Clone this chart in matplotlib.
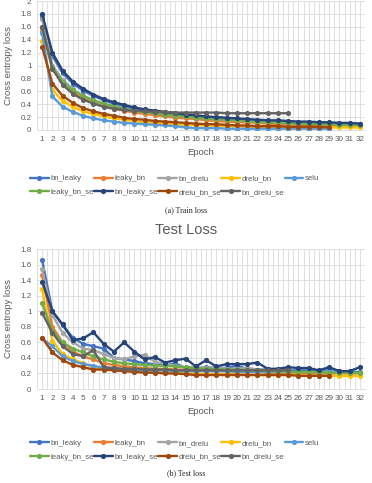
import numpy as np
import matplotlib
matplotlib.use("Agg")
import matplotlib.pyplot as plt

series_names = ["bn_leaky", "leaky_bn", "bn_drelu", "drelu_bn", "selu",
                "leaky_bn_se", "bn_leaky_se", "drelu_bn_se", "bn_drelu_se"]
series_colors = ["#4472C4", "#ED7D31", "#A5A5A5", "#FFC000", "#5B9BD5",
                 "#70AD47", "#264478", "#9E480E", "#636363"]

# ---- Train loss ----
train_bn_leaky = [1.75, 1.15, 0.88, 0.72, 0.61, 0.53, 0.46, 0.41, 0.37, 0.33, 0.30, 0.28, 0.26, 0.24, 0.22, 0.21,
                  0.19, 0.18, 0.17, 0.16, 0.15, 0.14, 0.14, 0.13, 0.12, 0.12, 0.11, 0.11, 0.10, 0.10, 0.10, 0.09]
train_leaky_bn = [1.55, 0.95, 0.72, 0.58, 0.49, 0.42, 0.37, 0.33, 0.30, 0.27, 0.25, 0.23, 0.21, 0.19, 0.18, 0.17,
                  0.15, 0.14, 0.13, 0.12, 0.12, 0.11, 0.10, 0.09, 0.09, 0.08, 0.08, 0.07, 0.07, 0.06, 0.06, 0.06]
train_bn_drelu = [1.72, 1.00, 0.78, 0.63, 0.53, 0.46, 0.40, 0.36, 0.33, 0.30, 0.28, 0.26, 0.24, 0.22, 0.21, 0.19,
                  0.18, 0.17, 0.16, 0.15, 0.14, 0.13, 0.12, 0.12, 0.11, 0.10, 0.10, 0.09, 0.09]
train_drelu_bn = [1.38, 0.62, 0.45, 0.36, 0.29, 0.25, 0.21, 0.18, 0.16, 0.14, 0.12, 0.11, 0.10, 0.09, 0.08, 0.08,
                  0.07, 0.07, 0.06, 0.06, 0.05, 0.05, 0.05, 0.05, 0.04, 0.04, 0.04, 0.04, 0.04, 0.04, 0.04, 0.04]
train_selu = [1.50, 0.52, 0.36, 0.28, 0.22, 0.18, 0.15, 0.13, 0.11, 0.10, 0.09, 0.08, 0.07, 0.06, 0.04, 0.03,
              0.03, 0.03, 0.02, 0.02, 0.02, 0.02, 0.02, 0.02, 0.02, 0.02, 0.02, 0.02, 0.02]
train_leaky_bn_se = [1.60, 0.98, 0.75, 0.62, 0.53, 0.46, 0.41, 0.37, 0.33, 0.30, 0.28, 0.26, 0.24, 0.22, 0.21, 0.19,
                     0.18, 0.17, 0.16, 0.15, 0.14, 0.13, 0.12, 0.12, 0.11, 0.10, 0.10, 0.09, 0.09, 0.08, 0.08, 0.08]
train_bn_leaky_se = [1.80, 1.20, 0.92, 0.75, 0.64, 0.55, 0.48, 0.43, 0.39, 0.35, 0.32, 0.30, 0.28, 0.26, 0.24, 0.23,
                     0.21, 0.20, 0.19, 0.18, 0.17, 0.16, 0.15, 0.15, 0.14, 0.13, 0.13, 0.12, 0.12, 0.11, 0.11, 0.10]
train_drelu_bn_se = [1.29, 0.72, 0.53, 0.42, 0.34, 0.29, 0.25, 0.22, 0.19, 0.17, 0.16, 0.14, 0.13, 0.12, 0.11, 0.10,
                     0.09, 0.09, 0.08, 0.07, 0.07, 0.06, 0.06, 0.06, 0.05, 0.05, 0.05, 0.05, 0.04]
train_bn_drelu_se = [1.60, 0.95, 0.70, 0.56, 0.47, 0.41, 0.36, 0.33, 0.31, 0.30, 0.29, 0.28, 0.28, 0.27, 0.27, 0.27,
                     0.27, 0.27, 0.26, 0.26, 0.26, 0.26, 0.26, 0.26, 0.26]

# ---- Test loss ----
test_bn_leaky = [1.66, 1.00, 0.82, 0.66, 0.58, 0.55, 0.52, 0.40, 0.38, 0.36, 0.33, 0.32, 0.30, 0.33, 0.27, 0.26,
                 0.28, 0.27, 0.27, 0.30, 0.26, 0.25, 0.25, 0.25, 0.24, 0.24, 0.24, 0.23, 0.25, 0.23, 0.22, 0.22]
test_leaky_bn = [1.46, 0.80, 0.60, 0.48, 0.42, 0.38, 0.33, 0.31, 0.29, 0.28, 0.27, 0.26, 0.26, 0.25, 0.25, 0.24,
                 0.23, 0.23, 0.23, 0.22, 0.22, 0.22, 0.21, 0.21, 0.21, 0.21, 0.20, 0.20, 0.20, 0.20, 0.20, 0.20]
test_bn_drelu = [1.54, 0.95, 0.72, 0.60, 0.52, 0.50, 0.45, 0.40, 0.38, 0.42, 0.44, 0.35, 0.32, 0.30, 0.28, 0.28,
                 0.27, 0.28, 0.26, 0.26, 0.27, 0.25, 0.25, 0.24, 0.24]
test_drelu_bn = [1.28, 0.62, 0.45, 0.38, 0.33, 0.28, 0.26, 0.25, 0.24, 0.23, 0.22, 0.22, 0.21, 0.21, 0.20, 0.20,
                 0.19, 0.19, 0.19, 0.19, 0.18, 0.18, 0.18, 0.18, 0.18, 0.18, 0.17, 0.17, 0.17, 0.17, 0.17, 0.17]
test_selu = [0.65, 0.55, 0.42, 0.36, 0.32, 0.30, 0.27, 0.26, 0.25, 0.25, 0.24, 0.24, 0.24, 0.23, 0.23, 0.23,
             0.23, 0.23, 0.23, 0.22, 0.22, 0.22, 0.22, 0.22, 0.22, 0.22, 0.22, 0.22, 0.25, 0.22]
test_leaky_bn_se = [1.10, 0.75, 0.60, 0.52, 0.47, 0.42, 0.38, 0.35, 0.33, 0.32, 0.31, 0.30, 0.30, 0.29, 0.28, 0.27,
                    0.26, 0.26, 0.25, 0.25, 0.24, 0.24, 0.23, 0.23, 0.22, 0.22, 0.22, 0.22, 0.21, 0.21, 0.21, 0.21]
test_bn_leaky_se = [1.38, 1.00, 0.83, 0.63, 0.65, 0.73, 0.58, 0.48, 0.60, 0.48, 0.38, 0.41, 0.34, 0.37, 0.39, 0.29,
                    0.37, 0.29, 0.32, 0.32, 0.32, 0.34, 0.26, 0.26, 0.28, 0.27, 0.27, 0.24, 0.28, 0.23, 0.23, 0.28]
test_drelu_bn_se = [0.66, 0.47, 0.37, 0.31, 0.28, 0.25, 0.25, 0.24, 0.23, 0.22, 0.21, 0.21, 0.20, 0.20, 0.19, 0.18,
                    0.18, 0.18, 0.18, 0.18, 0.18, 0.18, 0.18, 0.18, 0.18, 0.17, 0.17, 0.17, 0.17]
test_bn_drelu_se = [0.98, 0.72, 0.55, 0.45, 0.42, 0.50, 0.28, 0.27, 0.26, 0.26, 0.25, 0.25, 0.25, 0.24, 0.24, 0.24,
                    0.24, 0.24, 0.24, 0.24, 0.24, 0.24, 0.24, 0.24, 0.24]

train_series = [train_bn_leaky, train_leaky_bn, train_bn_drelu, train_drelu_bn, train_selu,
                train_leaky_bn_se, train_bn_leaky_se, train_drelu_bn_se, train_bn_drelu_se]
test_series = [test_bn_leaky, test_leaky_bn, test_bn_drelu, test_drelu_bn, test_selu,
               test_leaky_bn_se, test_bn_leaky_se, test_drelu_bn_se, test_bn_drelu_se]

epochs = list(range(1, 33))

plt.rcParams["font.family"] = ["Liberation Sans", "DejaVu Sans"]

W, H = 372, 483
fig = plt.figure(figsize=(W / 100, H / 100), dpi=100)
fig.patch.set_facecolor("white")

TXT = "#595959"
GRID = "#D9D9D9"


def px_axes(left, top, right, bottom):
    return fig.add_axes([left / W, 1 - bottom / H, (right - left) / W, (bottom - top) / H])


def style(ax, ymax, yticks, series):
    lines = []
    for name, col, vals in zip(series_names, series_colors, series):
        x = epochs[:len(vals)]
        ln, = ax.plot(x, vals, color=col, lw=1.7, marker="o", ms=2.7, label=name,
                      solid_capstyle="round", zorder=3)
        lines.append(ln)
    ax.set_xlim(0.5, 32.5)
    ax.set_ylim(0, ymax)
    ax.set_xticks(epochs)
    ax.set_xticklabels([str(e) for e in epochs])
    ax.set_xticks(np.arange(0.5, 33, 1.0), minor=True)
    ax.set_yticks(yticks)
    ax.set_yticklabels([("%g" % t) for t in yticks])
    ax.grid(True, which="both", axis="x", color=GRID, lw=0.6, zorder=0)
    ax.grid(True, which="major", axis="y", color=GRID, lw=0.6, zorder=0)
    ax.tick_params(which="both", length=0, labelsize=5.8, colors=TXT, pad=4)
    for s in ["top", "right", "left"]:
        ax.spines[s].set_visible(False)
    ax.spines["bottom"].set_color(GRID)
    ax.spines["bottom"].set_linewidth(0.6)
    ax.set_axisbelow(True)
    ax.set_xlabel("Epoch", fontsize=6.8, color=TXT, labelpad=4)
    ax.set_ylabel("Cross entropy loss", fontsize=6.8, color=TXT, labelpad=5)
    return lines


order = [0, 5, 1, 6, 2, 7, 3, 8, 4]


def add_legend(lines, ycenter):
    hs = [lines[i] for i in order]
    ls = [series_names[i] for i in order]
    fig.legend(hs, ls, ncol=5, loc="center left", bbox_to_anchor=(30 / W, 1 - ycenter / H),
               frameon=False, fontsize=5.6, handlelength=2.4, handletextpad=0.2,
               columnspacing=0.05, labelspacing=0.8, labelcolor=TXT, borderaxespad=0,
               borderpad=0)


ax1 = px_axes(37, 1, 365, 130)
l1 = style(ax1, 2.0, [0, 0.2, 0.4, 0.6, 0.8, 1.0, 1.2, 1.4, 1.6, 1.8, 2.0], train_series)
add_legend(l1, 185.5)
fig.text(0.5, 1 - 210 / H, "(a) Train loss", ha="center", va="center", fontsize=5.8,
         family="Liberation Serif", color="#222222")

fig.text(0.5, 1 - 230 / H, "Test Loss", ha="center", va="center", fontsize=10.5, color=TXT)

ax2 = px_axes(37, 249, 365, 389)
l2 = style(ax2, 1.8, [0, 0.2, 0.4, 0.6, 0.8, 1.0, 1.2, 1.4, 1.6, 1.8], test_series)
add_legend(l2, 450)
fig.text(0.5, 1 - 473 / H, "(b) Test loss", ha="center", va="center", fontsize=5.8,
         family="Liberation Serif", color="#222222")

fig.savefig("out.png", dpi=100, facecolor="white")
